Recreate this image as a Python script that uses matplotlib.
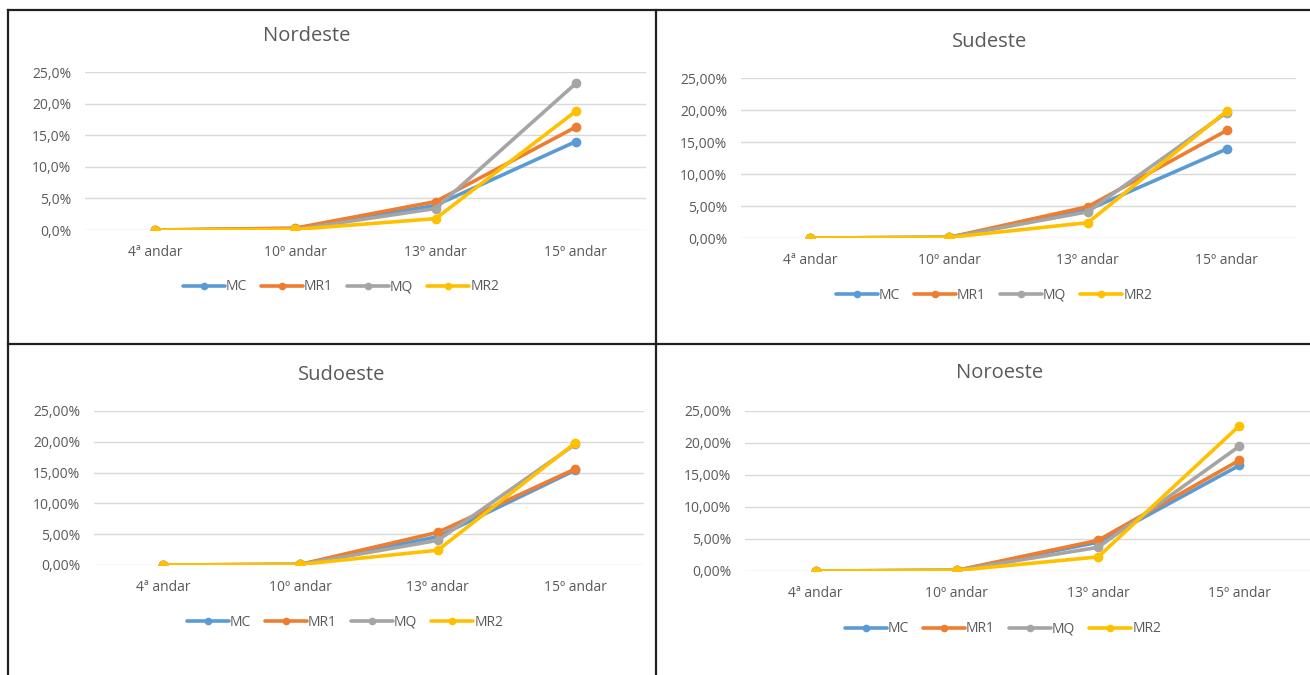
import numpy as np
import matplotlib
matplotlib.use('Agg')
import matplotlib.pyplot as plt
from matplotlib.ticker import FuncFormatter

plt.rcParams['font.family'] = ['Open Sans', 'DejaVu Sans']

andares = ['4ª andar', '10º andar', '13º andar', '15º andar']
series = ['MC', 'MR1', 'MQ', 'MR2']
cores = ['#5B9BD5', '#ED7D31', '#A5A5A5', '#FFC000']

# valores em %
nordeste_mc = [0.0, 0.2, 3.9, 14.0]
nordeste_mr1 = [0.0, 0.3, 4.5, 16.3]
nordeste_mq = [0.0, 0.1, 3.4, 23.2]
nordeste_mr2 = [0.0, 0.1, 1.8, 18.8]

sudeste_mc = [0.0, 0.1, 4.4, 13.9]
sudeste_mr1 = [0.0, 0.1, 4.9, 16.8]
sudeste_mq = [0.0, 0.1, 4.1, 19.6]
sudeste_mr2 = [0.0, 0.1, 2.4, 19.8]

sudoeste_mc = [0.0, 0.1, 4.6, 15.4]
sudoeste_mr1 = [0.0, 0.1, 5.3, 15.6]
sudoeste_mq = [0.0, 0.1, 4.0, 19.6]
sudoeste_mr2 = [0.0, 0.1, 2.4, 19.8]

noroeste_mc = [0.0, 0.1, 4.5, 16.5]
noroeste_mr1 = [0.0, 0.1, 4.8, 17.3]
noroeste_mq = [0.0, 0.1, 3.7, 19.5]
noroeste_mr2 = [0.0, 0.1, 2.2, 22.7]

W, H = 1310, 675
fig = plt.figure(figsize=(W / 100, H / 100), dpi=100)

def px_axes(left, top, right, bottom):
    return fig.add_axes([left / W, 1 - bottom / H, (right - left) / W, (bottom - top) / H])

def grafico(ax, titulo, dados, casas, titulo_xy, legenda_xy):
    x = np.arange(len(andares))
    for nome, cor, vals in zip(series, cores, dados):
        ax.plot(x, vals, color=cor, lw=2.6, marker='o', ms=6, label=nome,
                solid_capstyle='round', zorder=3)
    ax.set_xlim(-0.5, 3.5)
    ax.set_ylim(0, 25)
    ax.set_yticks(np.arange(0, 26, 5))
    ax.yaxis.set_major_formatter(FuncFormatter(
        lambda v, p: ('{:.%df}%%' % casas).format(v).replace('.', ',')))
    ax.set_xticks(x)
    ax.set_xticklabels(andares)
    ax.grid(axis='y', color='#D9D9D9', lw=1)
    ax.set_axisbelow(True)
    for s in ax.spines.values():
        s.set_visible(False)
    ax.tick_params(axis='y', length=0, pad=10, labelsize=10, labelcolor='#595959')
    ax.tick_params(axis='x', length=0, pad=11, labelsize=10, labelcolor='#595959')
    fig.text(titulo_xy[0] / W, 1 - titulo_xy[1] / H, titulo, fontsize=14.5,
             color='#595959', ha='center', va='center')
    fig.legend(*ax.get_legend_handles_labels(), loc='center', ncol=4,
               bbox_to_anchor=(legenda_xy[0] / W, 1 - legenda_xy[1] / H),
               frameon=False, fontsize=10, handlelength=3.0, handletextpad=0.1,
               columnspacing=1.0, markerscale=0.75, labelcolor='#595959')

ax1 = px_axes(85, 72, 646, 230)
grafico(ax1, 'Nordeste', [nordeste_mc, nordeste_mr1, nordeste_mq, nordeste_mr2], 1,
        (307, 36), (341, 287))

ax2 = px_axes(741, 78, 1296, 238)
grafico(ax2, 'Sudeste', [sudeste_mc, sudeste_mr1, sudeste_mq, sudeste_mr2], 2,
        (990, 42), (994, 295))

ax3 = px_axes(94, 411, 644, 565)
grafico(ax3, 'Sudoeste', [sudoeste_mc, sudoeste_mr1, sudoeste_mq, sudoeste_mr2], 2,
        (342, 375), (345, 622))

ax4 = px_axes(745, 411, 1310, 571)
grafico(ax4, 'Noroeste', [noroeste_mc, noroeste_mr1, noroeste_mq, noroeste_mr2], 2,
        (1000, 373), (1003, 629))

# moldura da tabela
borda = dict(color='#231F20', lw=1.6, transform=fig.transFigure, clip_on=False)
fig.add_artist(plt.Line2D([7.5 / W, 1], [1 - 10 / H, 1 - 10 / H], **borda))
fig.add_artist(plt.Line2D([7.5 / W, 1], [1 - 344 / H, 1 - 344 / H], **borda))
fig.add_artist(plt.Line2D([7.5 / W, 7.5 / W], [1 - 10 / H, 0], **borda))
fig.add_artist(plt.Line2D([656 / W, 656 / W], [1 - 10 / H, 0], **borda))

fig.savefig('out.png', dpi=100)
